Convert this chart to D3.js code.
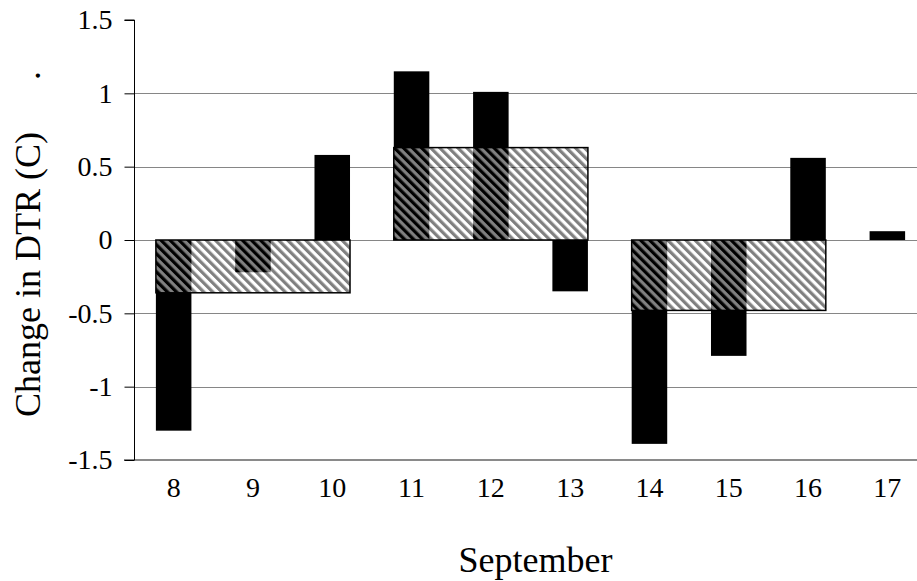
<!DOCTYPE html>
<html>
<head>
<meta charset="utf-8">
<script src="https://cdn.jsdelivr.net/npm/d3@7"></script>
<style>
  html, body { margin: 0; padding: 0; background: #fff; }
  svg { display: block; font-family: "Liberation Serif", "Times New Roman", serif; }
</style>
</head>
<body>
<div id="chart"></div>
<script>
'use strict';

// one black bar per day of September
var days = ['8', '9', '10', '11', '12', '13', '14', '15', '16', '17'];
var dailyChange = [-1.30, -0.22, 0.58, 1.15, 1.01, -0.35, -1.39, -0.79, 0.56, 0.06];

// hatched boxes: mean over each three-day period
var periodStart = ['8', '11', '14'];
var periodEnd = ['10', '13', '16'];
var periodMean = [-0.36, 0.63, -0.48];

var yTicks = [1.5, 1, 0.5, 0, -0.5, -1, -1.5];
var gridTicks = [1, 0.5, 0, -0.5, -1];

var width = 917,
    height = 581,
    plotLeft = 134,
    plotRight = 927, // plot runs past the picture edge
    plotTop = 20,
    plotBottom = 460,
    hatchStep = 6.4;

var svg = d3.select('#chart').append('svg')
    .attr('width', width)
    .attr('height', height);

svg.append('rect')
    .attr('width', width)
    .attr('height', height)
    .attr('fill', '#fff');

var x = d3.scaleBand()
    .domain(days)
    .range([plotLeft, plotRight])
    .paddingInner(0.552)
    .paddingOuter(0.276);

var y = d3.scaleLinear()
    .domain([-1.5, 1.5])
    .range([plotBottom, plotTop]);

// diagonal stripes, drawn half transparent so bars and grid show through
var defs = svg.append('defs');
var pattern = defs.append('pattern')
    .attr('id', 'hatch')
    .attr('patternUnits', 'userSpaceOnUse')
    .attr('width', hatchStep)
    .attr('height', hatchStep)
    .attr('patternTransform', 'rotate(-45)');
pattern.append('rect')
    .attr('width', hatchStep)
    .attr('height', hatchStep)
    .attr('fill', '#fff');
pattern.append('rect')
    .attr('width', hatchStep / 2)
    .attr('height', hatchStep)
    .attr('fill', '#000');

// gridlines
svg.append('g')
    .selectAll('line')
    .data(gridTicks)
    .enter().append('line')
      .attr('x1', plotLeft)
      .attr('x2', plotRight)
      .attr('y1', function (d) { return Math.round(y(d)) + 0.5; })
      .attr('y2', function (d) { return Math.round(y(d)) + 0.5; })
      .attr('stroke', '#868686')
      .attr('stroke-width', 1);

// daily bars
svg.append('g')
    .selectAll('rect')
    .data(dailyChange)
    .enter().append('rect')
      .attr('x', function (d, i) { return x(days[i]); })
      .attr('width', x.bandwidth())
      .attr('y', function (d) { return y(Math.max(0, d)); })
      .attr('height', function (d) { return Math.abs(y(d) - y(0)); })
      .attr('fill', '#000');

// period boxes
var boxes = svg.append('g')
    .selectAll('g')
    .data(periodMean)
    .enter().append('g');

function boxAttrs(sel) {
  sel.attr('x', function (d, i) { return x(periodStart[i]); })
      .attr('width', function (d, i) {
        return x(periodEnd[i]) + x.bandwidth() - x(periodStart[i]);
      })
      .attr('y', function (d) { return y(Math.max(0, d)); })
      .attr('height', function (d) { return Math.abs(y(d) - y(0)); });
}

boxes.append('rect')
    .call(boxAttrs)
    .attr('fill', 'url(#hatch)')
    .attr('opacity', 0.5);
boxes.append('rect')
    .call(boxAttrs)
    .attr('fill', 'none')
    .attr('stroke', '#000')
    .attr('stroke-width', 1.5);

// x axis line at the bottom
svg.append('line')
    .attr('x1', plotLeft - 10)
    .attr('x2', plotRight)
    .attr('y1', plotBottom)
    .attr('y2', plotBottom)
    .attr('stroke', '#8a8a8a')
    .attr('stroke-width', 2);

// y axis
var yAxis = svg.append('g')
    .attr('transform', 'translate(' + (plotLeft + 0.5) + ',0)')
    .call(d3.axisLeft(y).tickValues(yTicks).tickSize(10).tickPadding(12)
      .tickFormat(function (d) { return String(d); }));
yAxis.select('.domain').attr('stroke', '#000').attr('d', 'M-10,' + plotTop + 'H0V' + plotBottom);
yAxis.selectAll('.tick line').attr('stroke', '#000');
yAxis.selectAll('.tick text')
    .attr('font-family', 'Liberation Serif')
    .attr('font-size', 28)
    .attr('fill', '#000');

// day labels
svg.append('g')
    .selectAll('text')
    .data(days)
    .enter().append('text')
      .attr('x', function (d) { return x(d) + x.bandwidth() / 2; })
      .attr('y', 497)
      .attr('text-anchor', 'middle')
      .attr('font-size', 28)
      .text(function (d) { return d; });

// axis titles
svg.append('text')
    .attr('x', (plotLeft + plotRight) / 2 + 5)
    .attr('y', 572)
    .attr('text-anchor', 'middle')
    .attr('font-size', 36)
    .text('September');

svg.append('text')
    .attr('transform', 'translate(40,417) rotate(-90)')
    .attr('font-size', 36)
    .text('Change in DTR (C)');

svg.append('text')
    .attr('transform', 'translate(40,80) rotate(-90)')
    .attr('font-size', 36)
    .text('.');
</script>
</body>
</html>
